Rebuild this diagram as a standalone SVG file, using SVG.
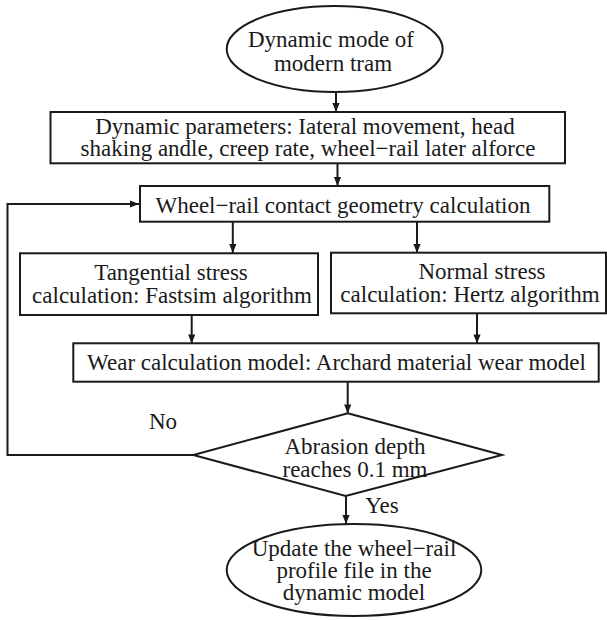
<svg xmlns="http://www.w3.org/2000/svg" width="607" height="620" viewBox="0 0 607 620">
<defs>
<marker id="ah" viewBox="0 0 10 10" refX="10" refY="5" markerWidth="10" markerHeight="9" markerUnits="userSpaceOnUse" orient="auto">
<path d="M0,1 L10,5 L0,9 Z" fill="#1a1a1a"/>
</marker>
</defs>
<rect width="607" height="620" fill="#fff"/>
<g font-family="Liberation Serif" font-size="23" text-anchor="middle">
<g id="connectors" fill="none" stroke="#1a1a1a" stroke-width="2">
<line x1="336" y1="92" x2="336" y2="112" marker-end="url(#ah)"/>
<line x1="337.5" y1="163" x2="337.5" y2="186" marker-end="url(#ah)"/>
<line x1="232.8" y1="222" x2="232.8" y2="253" marker-end="url(#ah)"/>
<line x1="417" y1="222" x2="417" y2="253" marker-end="url(#ah)"/>
<line x1="191.7" y1="315" x2="191.7" y2="343.5" marker-end="url(#ah)"/>
<line x1="477" y1="313" x2="477" y2="343.5" marker-end="url(#ah)"/>
<line x1="347.7" y1="382" x2="347.7" y2="413.5" marker-end="url(#ah)"/>
<line x1="346" y1="496" x2="346" y2="524" marker-end="url(#ah)"/>
<polyline points="193.3,455 7.5,455 7.5,204 139,204" marker-end="url(#ah)"/>
<text x="163" y="429" fill="#1a1a1a" stroke="none">No</text>
<text x="382" y="513" fill="#1a1a1a" stroke="none">Yes</text>
</g>
<g fill="#1a1a1a">
<g id="start">
<ellipse cx="334.7" cy="49" rx="108" ry="43" fill="#fff" stroke="#1a1a1a" stroke-width="2"/>
<text x="331" y="47">Dynamic mode of</text>
<text x="333" y="70.5">modern tram</text>
</g>
<g id="params">
<rect x="50.5" y="112" width="514.5" height="51.3" fill="#fff" stroke="#1a1a1a" stroke-width="2"/>
<text x="305" y="133.5">Dynamic parameters: Iateral movement, head</text>
<text x="308" y="155.5">shaking andle, creep rate, wheel−rail later alforce</text>
</g>
<g id="contact">
<rect x="140" y="186" width="409.3" height="35.7" fill="#fff" stroke="#1a1a1a" stroke-width="2"/>
<text x="343" y="212.5">Wheel−rail contact geometry calculation</text>
</g>
<g id="tangential">
<rect x="20" y="253.3" width="298" height="61.7" fill="#fff" stroke="#1a1a1a" stroke-width="2"/>
<text x="171" y="280">Tangential stress</text>
<text x="172" y="303">calculation: Fastsim algorithm</text>
</g>
<g id="normal">
<rect x="331" y="252.7" width="275" height="60.6" fill="#fff" stroke="#1a1a1a" stroke-width="2"/>
<text x="482" y="278.5">Normal stress</text>
<text x="470" y="301.5">calculation: Hertz algorithm</text>
</g>
<g id="wear">
<rect x="73.3" y="343.3" width="525.4" height="38.4" fill="#fff" stroke="#1a1a1a" stroke-width="2"/>
<text x="336.5" y="370">Wear calculation model: Archard material wear model</text>
</g>
<g id="decision">
<polygon points="347.7,413.3 502,455 345.7,496 193.3,455" fill="#fff" stroke="#1a1a1a" stroke-width="2"/>
<text x="355" y="453.5">Abrasion depth</text>
<text x="355" y="476.5">reaches 0.1 mm</text>
</g>
<g id="end">
<ellipse cx="354" cy="570" rx="127.3" ry="46" fill="#fff" stroke="#1a1a1a" stroke-width="2"/>
<text x="354" y="555.5">Update the wheel−rail</text>
<text x="354" y="577.5">profile file in the</text>
<text x="354" y="599.5">dynamic model</text>
</g>
</g>
</g>
</svg>
